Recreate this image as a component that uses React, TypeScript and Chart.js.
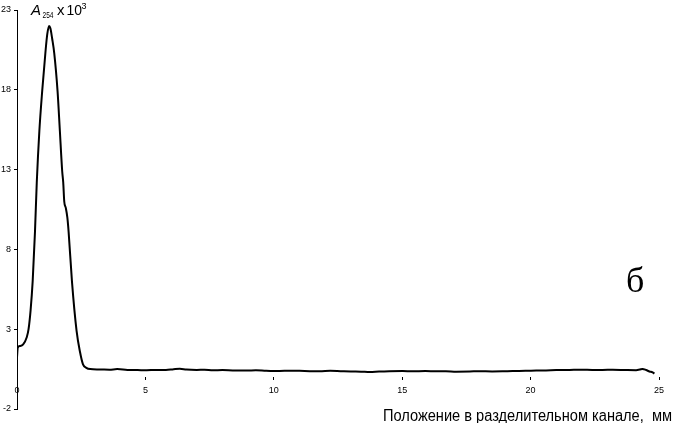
import React, { useEffect, useRef } from "react";
import { Chart, registerables } from "chart.js";

Chart.register(...registerables);

// Position in the separation channel, mm
const xPositions = [
  0.0, 0.03, 0.12, 0.24, 0.38, 0.45, 0.53, 0.61, 0.7, 0.77, 0.87, 0.98, 1.11, 1.18, 1.25,
  1.3, 1.37, 1.45, 1.58, 1.67, 1.76, 1.8, 1.84, 1.9, 1.96, 2.01, 2.14, 2.32, 2.45, 2.57,
  2.7, 2.85, 3.2, 3.35, 3.6, 3.9, 4.3, 4.7, 5.05, 5.4, 5.8, 6.1, 6.34, 6.6, 7.0, 7.3,
  7.63, 8.0, 8.4, 8.94, 9.3, 9.7, 10.23, 10.6, 11.0, 11.4, 11.79, 12.2, 12.6, 13.0, 13.4,
  13.74, 14.1, 14.5, 15.02, 15.4, 15.9, 16.33, 16.7, 17.1, 17.63, 18.0, 18.5, 18.91, 19.3,
  19.8, 20.22, 20.6, 21.0, 21.52, 22.0, 22.4, 22.8, 23.2, 23.7, 24.11, 24.25, 24.36, 24.5,
  24.63, 24.75, 24.82,
];

// A254 x 10^3
const absorbance = [
  1.25, 1.85, 1.95, 2.05, 2.5, 3.0, 4.2, 6.0, 9.1, 12.2, 15.4, 17.9, 20.4, 21.5, 22.0,
  21.85, 21.2, 20.3, 17.9, 15.4, 12.9, 12.2, 11.0, 10.6, 10.0, 9.1, 6.0, 2.9, 1.6, 0.8,
  0.58, 0.5, 0.48, 0.47, 0.46, 0.5, 0.45, 0.44, 0.43, 0.45, 0.44, 0.49, 0.52, 0.47, 0.45, 0.46,
  0.43, 0.44, 0.42, 0.41, 0.43, 0.4, 0.38, 0.4, 0.39, 0.37, 0.36, 0.39, 0.37, 0.35, 0.34,
  0.32, 0.35, 0.37, 0.38, 0.36, 0.38, 0.36, 0.37, 0.34, 0.35, 0.37, 0.35, 0.36, 0.38,
  0.39, 0.41, 0.42, 0.44, 0.45, 0.46, 0.45, 0.45, 0.46, 0.44, 0.43, 0.47, 0.51, 0.44,
  0.35, 0.3, 0.22,
];

const yTickValues = [-2, 3, 8, 13, 18, 23];
const xMin = 0;
const xMax = 25;
const xStep = 5;

const xTitle = "Положение в разделительном канале,  мм";
const panelLabel = "б";
const yTitleMain = "A";
const yTitleSub = "254";
const yTitleTail = "x 10";
const yTitleSup = "3";

export default function App() {
  const ref = useRef<HTMLCanvasElement>(null);

  useEffect(() => {
    if (!ref.current) return;
    Chart.defaults.font.family = '"Liberation Sans", Arial, sans-serif';

    const textPlugin = {
      id: "extraTexts",
      afterDraw(chart: any) {
        const ctx = chart.ctx as CanvasRenderingContext2D;
        ctx.save();
        ctx.fillStyle = "#000";
        ctx.textAlign = "left";
        ctx.textBaseline = "alphabetic";

        // Y axis title: A_254 x 10^3
        ctx.font = 'italic 15px "Liberation Sans"';
        ctx.fillText(yTitleMain, 31, 15);
        ctx.font = '9px "Liberation Sans"';
        ctx.fillText(yTitleSub, 42.5, 17.5, 11);
        ctx.font = '15px "Liberation Sans"';
        ctx.fillText(yTitleTail.slice(0, 1), 57, 15);
        ctx.fillText(yTitleTail.slice(2), 66.5, 15, 15.5);
        ctx.font = '9px "Liberation Sans"';
        ctx.fillText(yTitleSup, 81.5, 8.5);

        // Panel label
        ctx.font = '36px "Liberation Serif"';
        ctx.fillText(panelLabel, 626, 292);

        // X axis title, stretched to its width in the reference
        ctx.font = '16px "Liberation Sans"';
        const w = ctx.measureText(xTitle).width;
        ctx.translate(383, 421);
        ctx.scale(289 / w, 1);
        ctx.fillText(xTitle, 0, 0);
        ctx.restore();
      },
    };

    const chart = new Chart(ref.current, {
      type: "line",
      data: {
        datasets: [
          {
            data: xPositions.map((x, i) => ({ x, y: absorbance[i] })),
            borderColor: "#000",
            borderWidth: 2,
            pointRadius: 0,
            cubicInterpolationMode: "monotone",
            fill: false,
          },
        ],
      },
      options: {
        responsive: false,
        animation: false,
        devicePixelRatio: 1,
        layout: { padding: { left: 0, top: 10, right: 20, bottom: 14 } },
        plugins: {
          legend: { display: false },
          tooltip: { enabled: false },
        },
        scales: {
          x: {
            type: "linear",
            min: xMin,
            max: xMax,
            position: { y: 0 } as any,
            ticks: {
              stepSize: xStep,
              color: "#000",
              font: { size: 9 },
              padding: 5,
              maxRotation: 0,
            },
            grid: {
              display: true,
              drawOnChartArea: false,
              drawTicks: true,
              tickLength: 3,
              color: "#000",
            },
            border: { display: false },
          },
          y: {
            type: "linear",
            position: "left",
            min: -2,
            max: 23,
            afterFit: (s: any) => {
              s.width = 17;
            },
            afterBuildTicks: (s: any) => {
              s.ticks = yTickValues.map((v) => ({ value: v }));
            },
            ticks: {
              color: "#000",
              font: { size: 9 },
              padding: 3,
            },
            grid: {
              display: true,
              drawOnChartArea: false,
              drawTicks: true,
              tickLength: 3,
              color: "#000",
            },
            border: { display: true, color: "#000", width: 1 },
          },
        },
      },
      plugins: [textPlugin],
    });

    return () => chart.destroy();
  }, []);

  return (
    <div
      style={{
        position: "fixed",
        left: 0,
        top: 0,
        width: 679,
        height: 423,
        background: "#fff",
      }}
    >
      <canvas
        ref={ref}
        width={679}
        height={423}
        style={{ display: "block", width: 679, height: 423 }}
      />
    </div>
  );
}
